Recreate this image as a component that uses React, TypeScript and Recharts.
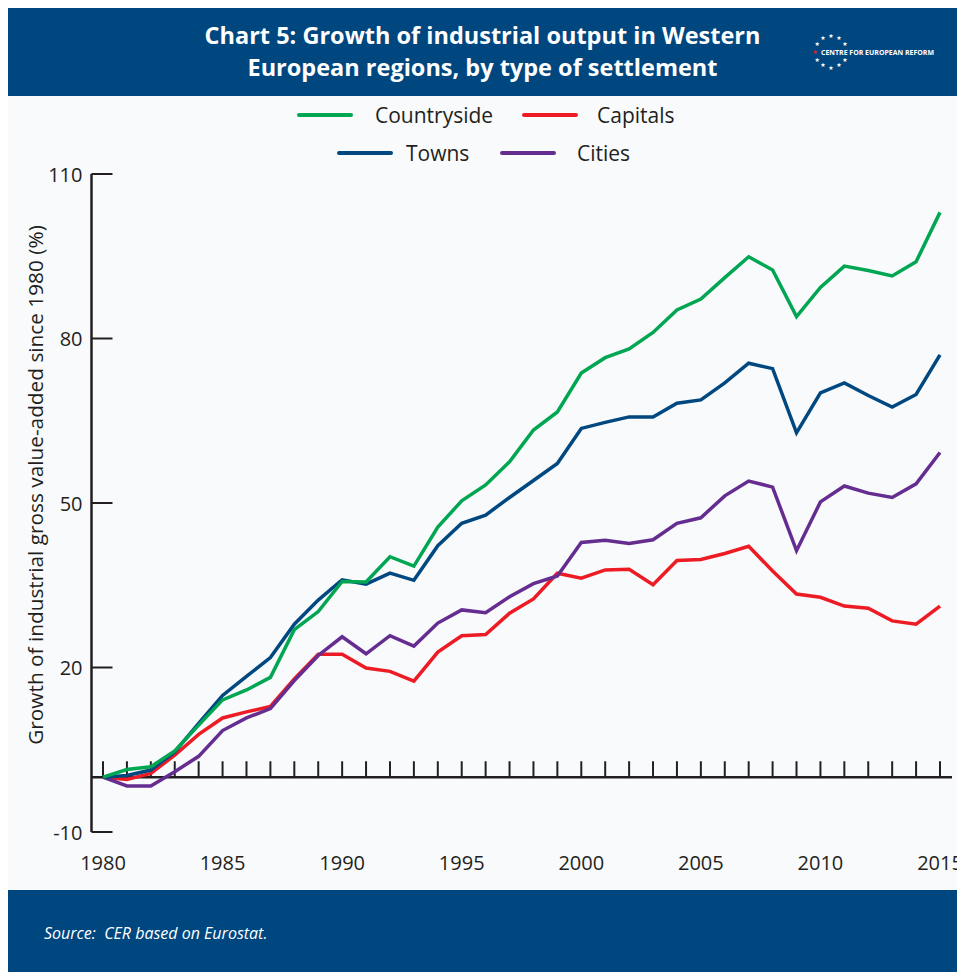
import { LineChart, Line, XAxis, YAxis, ReferenceLine } from 'recharts';

const years = [
  1980, 1981, 1982, 1983, 1984, 1985, 1986, 1987, 1988, 1989, 1990, 1991,
  1992, 1993, 1994, 1995, 1996, 1997, 1998, 1999, 2000, 2001, 2002, 2003,
  2004, 2005, 2006, 2007, 2008, 2009, 2010, 2011, 2012, 2013, 2014, 2015,
];

const countryside = [
  0, 1.4, 1.9, 4.8, 9.5, 14.1, 15.9, 18.2, 26.9, 30.2, 35.7, 35.6, 40.2, 38.5,
  45.6, 50.4, 53.3, 57.5, 63.3, 66.6, 73.7, 76.5, 78.1, 81.1, 85.2, 87.2, 91.1,
  94.9, 92.5, 84.0, 89.3, 93.2, 92.4, 91.4, 94.0, 103.0,
];
const towns = [
  0, 0.3, 1.3, 4.6, 9.8, 14.9, 18.4, 21.8, 27.9, 32.3, 36.0, 35.2, 37.2, 35.9,
  42.2, 46.3, 47.8, 51.0, 54.1, 57.2, 63.6, 64.7, 65.7, 65.7, 68.2, 68.8, 71.9,
  75.5, 74.5, 62.8, 70.1, 71.9, 69.6, 67.5, 69.8, 77.0,
];
const capitals = [
  0, -0.4, 0.7, 4.0, 7.8, 10.8, 11.9, 12.9, 17.9, 22.4, 22.4, 19.9, 19.3, 17.5,
  22.8, 25.8, 26.0, 29.9, 32.5, 37.2, 36.3, 37.8, 37.9, 35.1, 39.5, 39.7, 40.8,
  42.1, 37.6, 33.4, 32.8, 31.2, 30.8, 28.5, 27.9, 31.2,
];
const cities = [
  0, -1.6, -1.6, 1.0, 3.8, 8.5, 10.8, 12.5, 17.6, 22.2, 25.6, 22.5, 25.8, 23.9,
  28.1, 30.5, 30.0, 32.9, 35.3, 36.7, 42.8, 43.2, 42.6, 43.3, 46.3, 47.3, 51.3,
  54.0, 52.9, 41.3, 50.2, 53.1, 51.8, 51.0, 53.5, 59.2,
];

const xTicks = [1980, 1985, 1990, 1995, 2000, 2005, 2010, 2015];
const yTicks = [-10, 20, 50, 80, 110];

const data = years.map((year, i) => ({
  year,
  countryside: countryside[i],
  towns: towns[i],
  capitals: capitals[i],
  cities: cities[i],
}));

const BLUE = '#00467f';
const INK = '#231f20';
const FONT = '"Open Sans", "Noto Sans", sans-serif';

// drawn back to front
const series = [
  { key: 'capitals', name: 'Capitals', color: '#ed1c24' },
  { key: 'cities', name: 'Cities', color: '#662d91' },
  { key: 'towns', name: 'Towns', color: '#00487f' },
  { key: 'countryside', name: 'Countryside', color: '#00a651' },
];

// legend placement as in the original (two rows)
const legendItems = [
  { key: 'countryside', left: 289, top: 107, textLeft: 367 },
  { key: 'capitals', left: 514, top: 107, textLeft: 589 },
  { key: 'towns', left: 329, top: 145, textLeft: 398 },
  { key: 'cities', left: 492, top: 145, textLeft: 569 },
];

const YTick = (props: any) => {
  const { x, y, payload } = props;
  return (
    <g>
      <line x1={x + 9} x2={x + 30} y1={y} y2={y} stroke={INK} strokeWidth={2} />
      <text x={x} y={y} textAnchor="end" dominantBaseline="central" fill={INK} fontSize={20} fontFamily={FONT}>
        {payload.value}
      </text>
    </g>
  );
};

const YLabel = (props: any) => {
  const vb = props.viewBox || { x: 0, y: 0, height: 0 };
  const cx = vb.x + 27;
  const cy = vb.y + vb.height / 2 - 18;
  return (
    <text
      x={cx}
      y={cy}
      transform={`rotate(-90, ${cx}, ${cy})`}
      textAnchor="middle"
      dominantBaseline="central"
      fill={INK}
      fontSize={20.8}
      fontFamily={FONT}
    >
      Growth of industrial gross value-added since 1980 (%)
    </text>
  );
};

const Logo = () => {
  const stars = [];
  for (let i = 0; i < 12; i++) {
    if (i === 3) continue;
    const a = (i * 30 - 90) * (Math.PI / 180);
    stars.push(
      <text
        key={i}
        x={23 + 16 * Math.cos(a)}
        y={25 + 16 * Math.sin(a)}
        textAnchor="middle"
        dominantBaseline="central"
        fontSize={6}
        fill={i === 9 ? '#ed1c24' : '#ffffff'}
        fontFamily="DejaVu Sans"
      >
        ★
      </text>
    );
  }
  return (
    <svg width={140} height={50} style={{ position: 'absolute', left: 800, top: 18 }}>
      {stars}
      <text
        x={13}
        y={25.5}
        dominantBaseline="central"
        fontSize={7.5}
        fontWeight={700}
        fill="#ffffff"
        fontFamily={FONT}
        textLength={113}
        lengthAdjust="spacingAndGlyphs"
      >
        CENTRE FOR EUROPEAN REFORM
      </text>
    </svg>
  );
};

export default function App() {
  return (
    <div
      style={{
        position: 'absolute',
        left: 8,
        top: 8,
        width: 949,
        height: 964,
        overflow: 'hidden',
        background: '#f8fafc',
        fontFamily: FONT,
      }}
    >
      <div style={{ position: 'absolute', left: 0, top: 0, width: 949, height: 88, background: BLUE }}>
        <div
          style={{
            position: 'absolute',
            left: 0,
            top: 11,
            width: 949,
            textAlign: 'center',
            color: '#fff',
            fontWeight: 700,
            fontSize: 23.5,
            lineHeight: '32px',
          }}
        >
          Chart 5: Growth of industrial output in Western
          <br />
          European regions, by type of settlement
        </div>
        <Logo />
      </div>

      {legendItems.map((item) => {
        const s = series.find((d) => d.key === item.key)!;
        return (
          <div key={item.key}>
            <div
              style={{
                position: 'absolute',
                left: item.left,
                top: item.top - 2,
                width: 56,
                height: 4,
                borderRadius: 2,
                background: s.color,
              }}
            />
            <div
              style={{
                position: 'absolute',
                left: item.textLeft,
                top: item.top - 15,
                height: 30,
                lineHeight: '30px',
                fontSize: 21,
                color: INK,
                whiteSpace: 'nowrap',
              }}
            >
              {s.name}
            </div>
          </div>
        );
      })}

      <LineChart
        width={949}
        height={882}
        data={data}
        margin={{ top: 166, right: 5, bottom: 18, left: 0 }}
        style={{ position: 'absolute', left: 0, top: 0 }}
      >
        <XAxis
          dataKey="year"
          type="number"
          domain={[1980, 2015]}
          ticks={xTicks}
          padding={{ left: 11.5, right: 12 }}
          axisLine={false}
          tickLine={false}
          tickSize={0}
          tickMargin={24}
          height={40}
          tick={{ fill: INK, fontSize: 20, fontFamily: FONT }}
          interval={0}
        />
        <YAxis
          type="number"
          domain={[-10, 110]}
          ticks={yTicks}
          width={83.5}
          tickSize={0}
          tickMargin={9}
          tickLine={false}
          axisLine={{ stroke: INK, strokeWidth: 2.5 }}
          tick={<YTick />}
          label={<YLabel />}
          interval={0}
        />
        <ReferenceLine y={0} stroke={INK} strokeWidth={2.5} />
        {years.map((yr) => (
          <ReferenceLine
            key={yr}
            segment={[
              { x: yr, y: 0 },
              { x: yr, y: 2.9 },
            ]}
            stroke={INK}
            strokeWidth={2}
          />
        ))}
        {series.map((s) => (
          <Line
            key={s.key}
            type="linear"
            dataKey={s.key}
            stroke={s.color}
            strokeWidth={3.5}
            dot={false}
            activeDot={false}
            isAnimationActive={false}
          />
        ))}
      </LineChart>

      <div
        style={{
          position: 'absolute',
          left: 0,
          top: 882,
          width: 949,
          height: 82,
          background: BLUE,
        }}
      >
        <div
          style={{
            position: 'absolute',
            left: 36,
            top: 32,
            color: '#fff',
            fontStyle: 'italic',
            fontSize: 16,
            whiteSpace: 'pre',
          }}
        >
          {'Source:  CER based on Eurostat.'}
        </div>
      </div>
    </div>
  );
}
